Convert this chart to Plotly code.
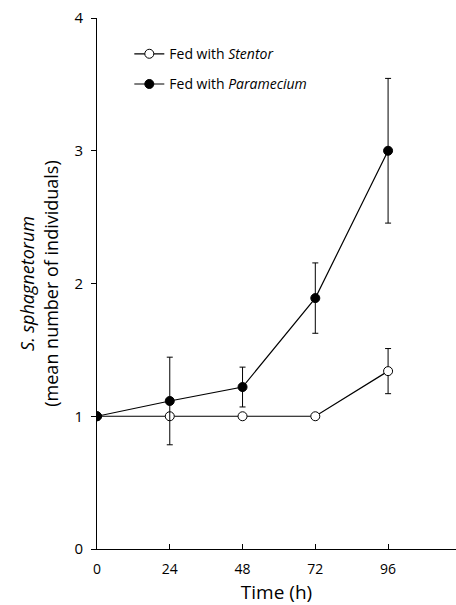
import plotly.graph_objects as go

time_h = [0, 24, 48, 72, 96]
stentor_mean = [1.0, 1.0, 1.0, 1.0, 1.34]
stentor_err = [0, 0, 0, 0, 0.17]
paramecium_mean = [1.0, 1.115, 1.22, 1.89, 3.0]
paramecium_err = [0, 0.33, 0.15, 0.265, 0.545]
x_ticks = [0, 24, 48, 72, 96]
y_ticks = [0, 1, 2, 3, 4]

FONT = "Open Sans"

fig = go.Figure()
fig.add_trace(go.Scatter(
    x=time_h, y=stentor_mean, mode="lines+markers",
    name="Fed with <i>Stentor</i>", legendgroup="a",
    line=dict(color="black", width=1.2),
    marker=dict(symbol="circle", size=9, color="white", line=dict(color="black", width=1)),
    error_y=dict(type="data", array=stentor_err, color="black", thickness=1, width=3,
                 visible=True),
))
fig.add_trace(go.Scatter(
    x=time_h, y=paramecium_mean, mode="lines+markers",
    name="Fed with <i>Paramecium</i>", legendgroup="b",
    line=dict(color="black", width=1.2),
    marker=dict(symbol="circle", size=9, color="black", line=dict(color="black", width=1)),
    error_y=dict(type="data", array=paramecium_err, color="black", thickness=1, width=3,
                 visible=True),
))

fig.update_layout(
    width=456, height=605,
    margin=dict(l=97, r=0, t=18, b=56),
    paper_bgcolor="white", plot_bgcolor="white",
    font=dict(family=FONT, color="black", size=14),
    showlegend=True,
    legend=dict(x=0.09, y=0.962, xanchor="left", yanchor="top",
                bgcolor="rgba(0,0,0,0)", font=dict(size=14, family=FONT),
                tracegroupgap=9, traceorder="grouped"),
    xaxis=dict(range=[0, 118.4], tickvals=x_ticks, ticks="inside", ticklen=5,
               tickcolor="black", showline=True, linecolor="black", linewidth=1,
               showgrid=False, zeroline=False, tickfont=dict(size=14),
               ticklabelstandoff=7,
               title=dict(text="Time (h)", font=dict(size=19), standoff=11)),
    yaxis=dict(range=[0, 4], tickvals=y_ticks, ticks="outside", ticklen=5,
               tickcolor="black", showline=True, linecolor="black", linewidth=1,
               showgrid=False, zeroline=False, tickfont=dict(size=15),
               ticklabelstandoff=5,
               title=dict(text="<i>S. sphagnetorum</i><br>(mean number of individuals)",
                          font=dict(size=18), standoff=11)),
)

fig.write_html("out.html")
